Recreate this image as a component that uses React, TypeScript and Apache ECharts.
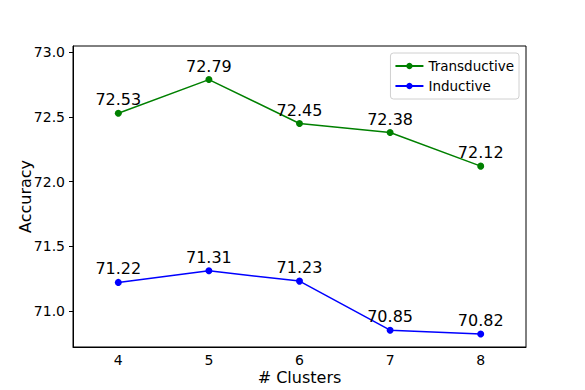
import React, { useEffect, useRef } from "react";
import * as echarts from "echarts";

const clusters = ["4", "5", "6", "7", "8"];
const transductive = [72.53, 72.79, 72.45, 72.38, 72.12];
const inductive = [71.22, 71.31, 71.23, 70.85, 70.82];
const yTicks = [71.0, 71.5, 72.0, 72.5, 73.0];

const FONT = "DejaVu Sans";

export default function App() {
  const ref = useRef<HTMLDivElement>(null);
  useEffect(() => {
    const chart = echarts.init(ref.current!, null, { renderer: "svg" });
    const mkSeries = (name: string, data: number[], color: string) => ({
      name,
      type: "line",
      data,
      symbol: "circle",
      symbolSize: 7,
      itemStyle: { color },
      lineStyle: { color, width: 1.5 },
      label: {
        show: true,
        position: "top",
        distance: 2,
        fontFamily: FONT,
        fontSize: 16,
        color: "#000",
        formatter: (p: any) => Number(p.value).toFixed(2),
      },
    });
    chart.setOption({
      animation: false,
      backgroundColor: "#fff",
      textStyle: { fontFamily: FONT },
      grid: {
        left: 73,
        top: 46,
        right: 59,
        bottom: 43,
        show: true,
        borderColor: "#000",
        borderWidth: 1,
        backgroundColor: "transparent",
      },
      legend: {
        orient: "vertical",
        right: 66,
        top: 53,
        itemWidth: 28,
        itemHeight: 8,
        itemGap: 6,
        padding: [6, 5, 6, 4],
        borderColor: "#d0d0d0",
        borderWidth: 1,
        borderRadius: 3,
        textStyle: { fontFamily: FONT, fontSize: 13.5, color: "#000" },
        data: ["Transductive", "Inductive"],
      },
      xAxis: {
        type: "category",
        data: clusters,
        boundaryGap: true,
        name: "# Clusters",
        nameLocation: "middle",
        nameGap: 22,
        nameMoveOverlap: false,
        nameTextStyle: { fontFamily: FONT, fontSize: 16, color: "#000" },
        axisLine: { lineStyle: { color: "#000", width: 1 } },
        axisTick: { alignWithLabel: true, length: 4, lineStyle: { color: "#000" } },
        axisLabel: { fontFamily: FONT, fontSize: 14, color: "#000", margin: 6 },
        splitLine: { show: false },
      },
      yAxis: {
        type: "value",
        min: 70.72,
        max: 73.05,
        name: "Accuracy",
        nameLocation: "middle",
        nameGap: 40,
        nameMoveOverlap: false,
        nameTextStyle: { fontFamily: FONT, fontSize: 16, color: "#000" },
        axisLine: { show: true, lineStyle: { color: "#000", width: 1 } },
        axisTick: { show: true, length: 4, lineStyle: { color: "#000" }, customValues: yTicks },
        axisLabel: {
          fontFamily: FONT,
          fontSize: 14,
          color: "#000",
          margin: 8,
          customValues: yTicks,
          formatter: (v: number) => v.toFixed(1),
        },
        splitLine: { show: false },
      },
      series: [
        mkSeries("Transductive", transductive, "#008000"),
        mkSeries("Inductive", inductive, "#0000ff"),
      ],
    });
    return () => chart.dispose();
  }, []);
  return <div ref={ref} style={{ width: 585, height: 390, position: "absolute", left: 0, top: 0 }} />;
}
